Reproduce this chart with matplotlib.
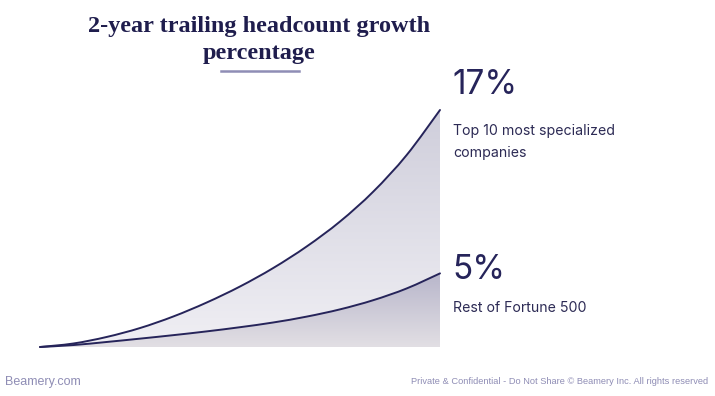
import matplotlib
matplotlib.use("Agg")
import matplotlib.pyplot as plt
import matplotlib.colors as mcolors
from matplotlib.path import Path
from matplotlib.patches import PathPatch
import numpy as np

W, H = 715, 396

# curve values (percent), 13 evenly spaced steps
steps = list(range(13))
top_curve = [0, 0.25, 0.72, 1.36, 2.19, 3.19, 4.34, 5.67, 7.21, 9.00, 11.15, 13.77, 17.0]
rest_curve = [0, 0.14, 0.36, 0.60, 0.85, 1.12, 1.42, 1.76, 2.18, 2.70, 3.36, 4.20, 5.28]

title = "2-year trailing headcount growth\npercentage"
top_value = "17%"
top_label = "Top 10 most specialized\ncompanies"
rest_value = "5%"
rest_label = "Rest of Fortune 500"
footer_left = "Beamery.com"
footer_right = "Private & Confidential - Do Not Share \u00a9 Beamery Inc. All rights reserved"

navy = "#26245a"
lavender = "#8f8db5"


def fx(px):
    return px / W


def fy(py):
    return 1 - py / H


def smooth_segments(xs, ys):
    # catmull-rom through the points, as cubic bezier pieces
    pts = np.column_stack([xs, ys])
    verts, codes = [], []
    for i in range(len(pts) - 1):
        p0 = pts[max(i - 1, 0)]
        p1 = pts[i]
        p2 = pts[i + 1]
        p3 = pts[min(i + 2, len(pts) - 1)]
        c1 = p1 + (p2 - p0) / 6
        c2 = p2 - (p3 - p1) / 6
        verts += [c1, c2, p2]
        codes += [Path.CURVE4] * 3
    return verts, codes


def curve_path(xs, ys):
    verts, codes = smooth_segments(xs, ys)
    return Path([(xs[0], ys[0])] + verts, [Path.MOVETO] + codes)


def band_path(xs, upper, lower):
    v1, c1 = smooth_segments(xs, upper)
    v2, c2 = smooth_segments(xs[::-1], lower[::-1])
    verts = [(xs[0], upper[0])] + v1 + [(xs[-1], lower[-1])] + v2 + [(xs[0], upper[0])]
    codes = [Path.MOVETO] + c1 + [Path.LINETO] + c2 + [Path.CLOSEPOLY]
    return Path(verts, codes)


fig = plt.figure(figsize=(W / 100, H / 100), dpi=100)
fig.patch.set_facecolor("white")

# chart area: x px 40..440, baseline at y px 347, 17% at y px 110
ax = fig.add_axes([fx(40), fy(347), 400 / W, 237 / H])
ax.set_xlim(0, 12)
ax.set_ylim(0, 17)
ax.axis("off")

x = np.array(steps, dtype=float)
top = np.array(top_curve)
rest = np.array(rest_curve)
zero = np.zeros_like(x)

grad = np.linspace(0, 1, 256).reshape(-1, 1)

# upper band with vertical gradient
cmap_up = mcolors.LinearSegmentedColormap.from_list("up", ["#f0eff4", "#cfcedb"])
im = ax.imshow(grad, extent=[0, 12, 0, 17], origin="lower", aspect="auto",
               cmap=cmap_up, zorder=1)
im.set_clip_path(PathPatch(band_path(x, top, rest), transform=ax.transData))

# lower band
cmap_low = mcolors.LinearSegmentedColormap.from_list("low", ["#e2dfe4", "#b8b6cb"])
im2 = ax.imshow(grad, extent=[0, 12, 0, rest.max()], origin="lower", aspect="auto",
                cmap=cmap_low, zorder=1)
im2.set_clip_path(PathPatch(band_path(x, rest, zero), transform=ax.transData))

for ys in (top, rest):
    ax.add_patch(PathPatch(curve_path(x, ys), fill=False, edgecolor=navy, lw=1.4,
                           zorder=3, clip_on=False, capstyle="round"))

# title
fig.text(fx(259), fy(40), title, ha="center", va="center", fontsize=17.5,
         family="Liberation Serif", weight="bold", color="#1f1d4d", linespacing=1.4)
fig.add_artist(plt.Line2D([fx(221), fx(299)], [fy(71), fy(71)], color=lavender, lw=1.8))

# right side labels
fig.text(fx(452), fy(85), top_value, ha="left", va="center", fontsize=24,
         family="Inter", color=navy)
fig.text(fx(453), fy(142), top_label, ha="left", va="center", fontsize=10.2,
         family="Inter", color="#2d2b55", linespacing=1.7)
fig.text(fx(452), fy(270), rest_value, ha="left", va="center", fontsize=24,
         family="Inter", color=navy)
fig.text(fx(453), fy(308), rest_label, ha="left", va="center", fontsize=10.2,
         family="Inter", color="#2d2b55")

# footer
fig.text(fx(5), fy(382), footer_left, ha="left", va="center", fontsize=9,
         family="Liberation Sans", color=lavender)
fig.text(fx(708), fy(381), footer_right, ha="right", va="center", fontsize=6.7,
         family="Liberation Sans", color=lavender)

fig.savefig("out.png", dpi=100, facecolor="white")
